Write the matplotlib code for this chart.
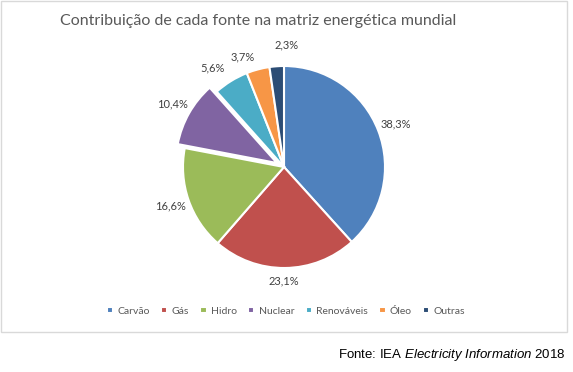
import matplotlib.pyplot as plt
from matplotlib.patches import Rectangle

plt.rcParams['mathtext.fontset'] = 'custom'
plt.rcParams['mathtext.rm'] = 'Liberation Sans'
plt.rcParams['mathtext.it'] = 'Liberation Sans:italic'

# data
fontes = ['Carvão', 'Gás', 'Hidro', 'Nuclear', 'Renováveis', 'Óleo', 'Outras']
valores = [38.3, 23.1, 16.6, 10.4, 5.6, 3.7, 2.3]
cores = ['#4F81BD', '#C0504D', '#9BBB59', '#8064A2', '#4BACC6', '#F79646', '#2C4D75']
explode = [0, 0, 0, 0.08, 0, 0, 0]

W, H = 573, 372
fig = plt.figure(figsize=(W / 100, H / 100), dpi=100)

# chart border
fig.patches.append(Rectangle((1 / W, 1 - 332 / H), 566 / W, 331 / H,
                             transform=fig.transFigure, fill=False,
                             edgecolor='#D9D9D9', linewidth=1))

fig.text(258 / W, 1 - 21 / H, 'Contribuição de cada fonte na matriz energética mundial',
         ha='center', va='center', fontsize=11.5, color='#595959', family='Lato')

cx, cy, r = 284, 167, 101
side = 3 * r
ax = fig.add_axes([(cx - side / 2) / W, 1 - (cy + side / 2) / H, side / W, side / H])
rotulos = [f'{v:.1f}%'.replace('.', ',') for v in valores]
wedges, texts = ax.pie(valores, colors=cores, explode=explode, startangle=90,
                       counterclock=False, labels=rotulos, labeldistance=1.19,
                       wedgeprops=dict(edgecolor='white', linewidth=1.5),
                       textprops=dict(fontsize=8, color='#404040', family='Lato'))
for t in texts:
    t.set_horizontalalignment('center')
    t.set_verticalalignment('center')
# labels moved as in the original
texts[1].set_position((0.0, -1.13))
texts[4].set_position((-0.71, 0.98))
texts[5].set_position((-0.41, 1.09))
texts[6].set_position((0.03, 1.21))
ax.set_xlim(-1.5, 1.5)
ax.set_ylim(-1.5, 1.5)
ax.set_aspect('equal')
ax.axis('off')

leg = fig.legend(wedges, fontes, loc='center', bbox_to_anchor=(286 / W, 1 - 311 / H),
                 ncol=7, frameon=False, handlelength=0.6, handleheight=0.6,
                 handletextpad=0.4, columnspacing=1.1, prop=dict(family='Lato', size=7.5))
for t in leg.get_texts():
    t.set_color('#595959')

fig.text(566 / W, 1 - 355 / H, r'Fonte: IEA $\mathit{Electricity\ Information}$ 2018',
         ha='right', va='center', fontsize=9.5, color='black', family='Liberation Sans')

fig.savefig('out.png', dpi=100)
